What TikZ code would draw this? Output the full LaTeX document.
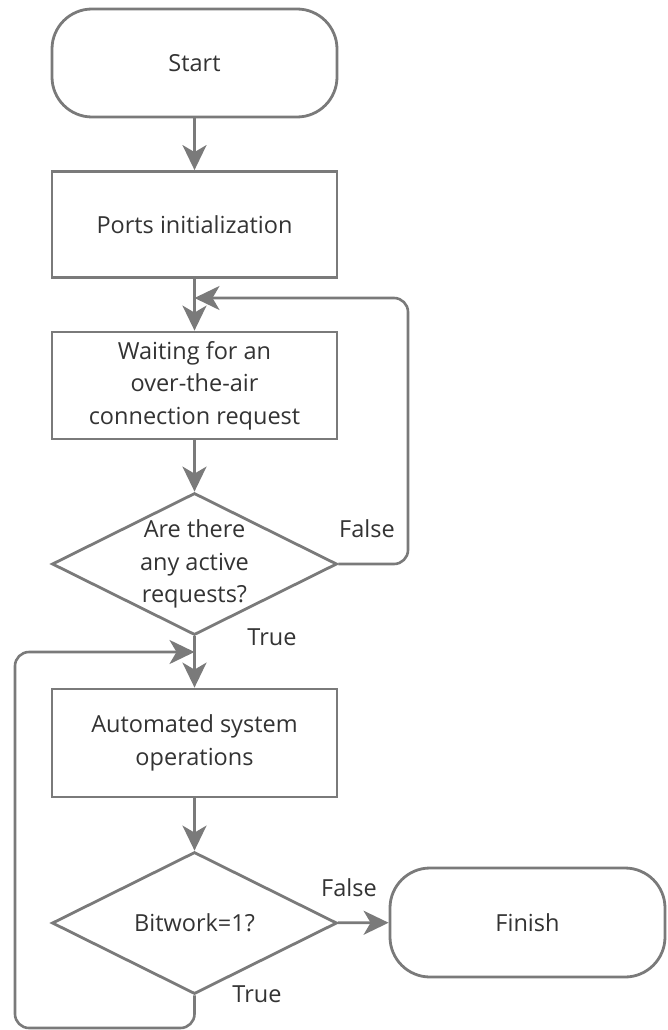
\documentclass[tikz,border=0pt]{standalone}
\usepackage{fontspec}
\setmainfont{Open Sans}
\usetikzlibrary{arrows.meta,shapes.geometric}
\definecolor{linegray}{HTML}{7A7A7A}
\definecolor{textgray}{HTML}{333333}
\begin{document}
\begin{tikzpicture}[x=1pt,y=-1pt,
  every node/.style={font=\fontsize{23.5pt}{32.5pt}\selectfont, text=textgray},
  terminal/.style={draw=linegray, line width=2.8pt, rounded corners=40pt,
    minimum width=285pt, minimum height=108pt, inner sep=0pt},
  process/.style={draw=linegray, line width=2.8pt, minimum width=285pt,
    minimum height=106pt, align=center, inner sep=0pt},
  decision/.style={draw=linegray, line width=2.8pt, diamond,
    minimum width=285pt, minimum height=142pt, inner sep=0pt},
  flow/.style={draw=linegray, line width=2.6pt,
    -{Stealth[length=25pt,width=24pt,inset=7pt]}},
  loopflow/.style={flow, rounded corners=14pt},
  branch/.style={inner sep=0pt}
]
\useasboundingbox (0,0) rectangle (668,1030);

% main column
\node[terminal] (start) at (194.5,63) {Start};
\node[process] (ports) at (194.5,224.5) {Ports initialization};
\node[process, minimum height=107pt] (wait) at (194.5,385.5)
  {Waiting for an\\over-the-air\\connection request};
\node[decision, label={[align=center]center:{Are there\\any active\\requests?}}]
  (d1) at (194.5,564) {};
\node[process, minimum height=108pt] (auto) at (194.5,743)
  {Automated system\\operations};
\node[decision, label={center:{Bitwork=1?}}] (d2) at (194.5,923) {};
\node[terminal, minimum width=275pt, minimum height=109pt] (finish)
  at (527.5,922.5) {Finish};

% branch labels
\node[branch] (f1) at (367,529) {False};
\node[branch] (t1) at (272,637) {True};
\node[branch] (f2) at (349,888) {False};
\node[branch] (t2) at (257,994) {True};

% bend points of the loops
\coordinate (join1) at (194.5,298);
\coordinate (join2) at (194.5,652);
\coordinate (rightrail) at (408,564);
\coordinate (leftrail) at (15,1028);

% connectors
\draw[flow] (start) -- (ports);
\draw[flow] (ports) -- (wait);
\draw[flow] (wait) -- (d1);
\draw[loopflow] (d1.east) -- (rightrail) |- (join1);
\draw[flow] (d1) -- (auto);
\draw[flow] (auto) -- (d2);
\draw[loopflow] (d2.south) |- (leftrail) |- (join2);
\draw[flow] (d2) -- (finish);
\end{tikzpicture}
\end{document}
